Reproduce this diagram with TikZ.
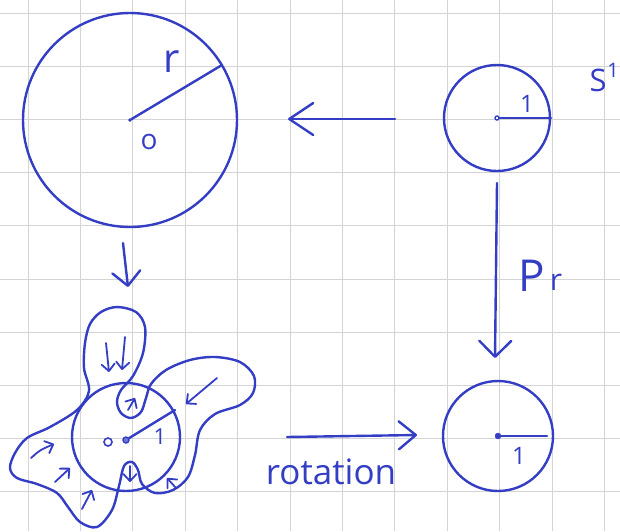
\documentclass[tikz,border=0pt]{standalone}
\usepackage{fontspec}
\setmainfont{Open Sans}
\usetikzlibrary{arrows.meta}
\definecolor{ink}{RGB}{52,62,196}
\definecolor{gridline}{RGB}{212,212,212}
\tikzset{
  pen/.style={draw=ink, line width=2.4pt, line cap=round, line join=round},
  thinpen/.style={draw=ink, line width=1.8pt, line cap=round, line join=round},
  bigarrow/.style={pen, -{Straight Barb[length=16pt,width=32pt,line cap=round,line join=round]}},
  tinyarrow/.style={thinpen, -{Straight Barb[length=7pt,width=13pt,line cap=round,line join=round]}},
  hand/.style={text=ink, inner sep=0pt},
  dotmark/.style={circle, fill=ink, draw=ink, inner sep=0pt, minimum size=4pt},
}
\begin{document}
\begin{tikzpicture}[x=1pt, y=-1pt]
  \useasboundingbox (0,0) rectangle (620,531);
  \fill[white] (0,0) rectangle (620,531);

  % squared paper
  \foreach \k in {0,...,11}
    \draw[gridline, line width=0.9pt] ({28+52.4*\k},0) -- ({28+52.4*\k},531);
  \foreach \k in {0,...,9}
    \draw[gridline, line width=0.9pt] (0,{13+53.2*\k}) -- (620,{13+53.2*\k});

  % big disc of radius r
  \coordinate (O) at (130,120);
  \draw[pen] (O) circle (107);
  \node[dotmark, minimum size=3pt] (o0) at (O) {};
  \coordinate (rend) at (222,65);
  \draw[pen] (o0) -- (rend);
  \node[hand] (rlab) at (172,62) {\fontsize{40}{40}\selectfont r};
  \node[hand] (olab) at (149,142) {\fontsize{28}{28}\selectfont o};

  % unit circle S^1
  \coordinate (C1) at (497,118);
  \draw[pen] (C1) circle (53);
  \node[circle, draw=ink, line width=1.4pt, inner sep=0pt, minimum size=4pt] (c1) at (C1) {};
  \coordinate (c1r) at (551,118);
  \draw[pen] (c1) -- (c1r);
  \node[hand] (one1) at (527,104) {\fontsize{24}{24}\selectfont 1};
  \node[hand] (S) at (598,80) {\fontsize{31}{31}\selectfont S};
  \node[hand] (Sexp) at (613,70) {\fontsize{20}{20}\selectfont 1};

  % arrow S^1 -> disc
  \coordinate (a1s) at (395,119);
  \coordinate (a1e) at (288,119);
  \draw[bigarrow, -{Straight Barb[length=24pt,width=32pt,line cap=round,line join=round]}] (a1s) -- (a1e);

  % arrow P_r
  \coordinate (a2s) at (497,183);
  \coordinate (a2e) at (495,358);
  \draw[bigarrow] (a2s) -- (a2e);
  \node[hand] (P) at (532,276) {\fontsize{44}{44}\selectfont P};
  \node[hand] (Pr) at (556,282) {\fontsize{30}{30}\selectfont r};

  % unit circle after rotation
  \coordinate (C2) at (498,436);
  \draw[pen] (C2) circle (55);
  \node[dotmark, minimum size=6pt] (c2) at (C2) {};
  \coordinate (c2r) at (547,436);
  \draw[pen] (c2) -- (c2r);
  \node[hand] (one2) at (519,456) {\fontsize{24}{24}\selectfont 1};

  % small arrow down from the disc
  \coordinate (a3s) at (123,243);
  \coordinate (a3e) at (128,287);
  \draw[bigarrow, -{Straight Barb[length=14pt,width=28pt,line cap=round,line join=round]}] (a3s) -- (a3e);

  % rotation arrow
  \coordinate (a4s) at (287,437);
  \coordinate (a4e) at (417,435);
  \draw[bigarrow, -{Straight Barb[length=17pt,width=28pt,line cap=round,line join=round]}] (a4s) -- (a4e);
  \node[hand] (rot) at (331,472) {\fontsize{35}{35}\selectfont rotation};

  % deformed region over the unit disc
  \coordinate (C3) at (126,437);
  \draw[pen] (C3) circle (54);
  \draw[pen] plot[smooth cycle, tension=0.55] coordinates {
    (10,468) (15,453) (27,438) (50,427) (77,410) (89,391)
    (84,368) (85,343) (90,324) (101,312) (117,307) (136,312)
    (145,327) (143,353) (133,376) (121,390)
    (117,402) (121,413) (131,418) (141,412) (146,398)
    (151,384) (166,370) (190,360) (215,357) (240,362) (254,376)
    (253,393) (240,405) (215,414) (200,430) (195,455) (188,477)
    (173,490) (155,493) (142,484) (138,470) (132,462) (124,466)
    (119,486) (112,510) (97,527) (80,522) (68,507) (57,493)
    (37,484) (17,478)};
  \node[circle, draw=ink, line width=1.6pt, inner sep=0pt, minimum size=8pt] (c3a) at (108,442) {};
  \node[circle, draw=ink, fill=ink!70, line width=1.4pt, inner sep=0pt, minimum size=6pt] (c3) at (126,440) {};
  \coordinate (c3r) at (175,410);
  \draw[pen] (c3) -- (c3r);
  \node[hand] (one3) at (160,437) {\fontsize{22}{22}\selectfont 1};

  % flow arrows inside the region
  \draw[tinyarrow] (106,343) -- (109,372);
  \draw[tinyarrow] (125,337) -- (122,370);
  \draw[tinyarrow] (128,410) -- (135,398);
  \draw[tinyarrow] (217,378) -- (186,404);
  \draw[tinyarrow] (31,458) .. controls (40,450) .. (54,444);
  \draw[tinyarrow] (55,482) -- (70,468);
  \draw[tinyarrow] (82,509) -- (92,490);
  \draw[tinyarrow] (130,466) -- (130,482);
  \draw[tinyarrow] (176,488) -- (167,478);
\end{tikzpicture}
\end{document}
